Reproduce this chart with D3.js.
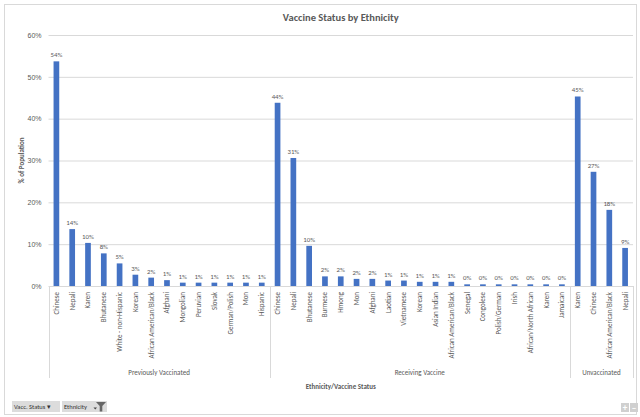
<!DOCTYPE html>
<html><head><meta charset="utf-8">
<script src="https://cdn.jsdelivr.net/npm/d3@7"></script>
<style>
html,body{margin:0;padding:0;background:#fff;}
svg{display:block;font-family:Carlito,"Liberation Sans Narrow","Open Sans",sans-serif;}
</style></head>
<body>
<svg id="c" width="640" height="417"></svg>
<script>
const groups = ["Previously Vaccinated","Receiving Vaccine","Unvaccinated"];
const prevCats = ["Chinese","Nepali","Karen","Bhutanese","White - non-Hispanic","Korean","African American/Black","Afghani","Mongolian","Peruvian","Slovak","German/Polish","Mon","Hispanic"];
const prevVals = [0.537,0.136,0.103,0.078,0.054,0.027,0.020,0.014,0.008,0.008,0.008,0.008,0.008,0.008];
const recvCats = ["Chinese","Nepali","Bhutanese","Burmese","Hmong","Mon","Afghani","Laotian","Vietnamese","Korean","Asian Indian","African American/Black","Senegal","Congolese","Polish/German","Irish","African/North African","Karen","Jamaican"];
const recvVals = [0.438,0.306,0.096,0.023,0.023,0.017,0.017,0.013,0.013,0.010,0.010,0.010,0.004,0.004,0.004,0.004,0.004,0.004,0.004];
const unvCats = ["Karen","Chinese","African American/Black","Nepali"];
const unvVals = [0.453,0.273,0.182,0.091];
const yTicks = [0,0.1,0.2,0.3,0.4,0.5,0.6];

const grpCats = [prevCats, recvCats, unvCats];
const grpVals = [prevVals, recvVals, unvVals];
const rows = [];
grpCats.forEach((cats,gi)=>cats.forEach((c,i)=>rows.push({key:gi+"|"+i, group:groups[gi], cat:c, v:grpVals[gi][i]})));

const svg = d3.select("#c");
const TXT = "#595959", GRID = "#d9d9d9", BAR = "#4472C4";
const L = 48.5, R = 633, T = 35, B = 286;

svg.append("rect").attr("x",4.5).attr("y",4.5).attr("width",632).attr("height",410)
  .attr("fill","#fff").attr("stroke","#d9d9d9");

const x = d3.scaleBand().domain(rows.map(d=>d.key)).range([L,R]).paddingInner(0.64).paddingOuter(0.32);
const y = d3.scaleLinear().domain([0,0.6]).range([B,T]);

// grid
svg.append("g").selectAll("line").data(yTicks).join("line")
  .attr("x1",L).attr("x2",R).attr("y1",d=>y(d)+0.5).attr("y2",d=>y(d)+0.5)
  .attr("stroke",GRID).attr("stroke-width",1);

// y axis labels
const yAxis = d3.axisLeft(y).tickValues(yTicks).tickFormat(d3.format(".0%")).tickSize(0).tickPadding(7);
const ya = svg.append("g").attr("transform",`translate(${L},0)`).call(yAxis);
ya.select(".domain").remove();
ya.selectAll("text").attr("fill",TXT).style("font-size","7px");

// bars
svg.append("g").selectAll("rect").data(rows).join("rect")
  .attr("x",d=>x(d.key)).attr("width",x.bandwidth())
  .attr("y",d=>y(d.v)).attr("height",d=>B-y(d.v)).attr("fill",BAR);

// value labels
svg.append("g").selectAll("text").data(rows).join("text")
  .attr("x",d=>x(d.key)+x.bandwidth()/2).attr("y",d=>y(d.v)-4)
  .attr("text-anchor","middle").attr("fill",TXT).style("font-size","6.8px")
  .text(d=>d3.format(".0%")(d.v));

// category labels
svg.append("g").selectAll("text").data(rows).join("text")
  .attr("transform",d=>`translate(${x(d.key)+x.bandwidth()/2+2.4},${B+6}) rotate(-90)`)
  .attr("text-anchor","end").attr("fill",TXT).style("font-size","7px")
  .text(d=>d.cat);

// group dividers & labels
const bounds = [L];
grpCats.forEach((cats,gi)=>{
  const k0 = rows.findIndex(r=>r.group===groups[gi]);
  const k1 = k0 + cats.length - 1;
  const xs = x(rows[k0].key)+x.bandwidth()/2, xe = x(rows[k1].key)+x.bandwidth()/2;
  svg.append("text").attr("x",(xs+xe)/2).attr("y",375).attr("text-anchor","middle")
    .attr("fill",TXT).style("font-size","7px").text(groups[gi]);
  if(gi>0){
    const prev = rows[k0-1];
    bounds.push((x(prev.key)+x.bandwidth() + x(rows[k0].key))/2);
  }
});
bounds.push(R);
svg.append("g").selectAll("line").data(bounds).join("line")
  .attr("x1",d=>Math.round(d)+0.5).attr("x2",d=>Math.round(d)+0.5)
  .attr("y1",B).attr("y2",378).attr("stroke",GRID);

// titles
svg.append("text").attr("x",(L+R)/2).attr("y",21).attr("text-anchor","middle")
  .attr("fill",TXT).style("font-size","10.5px").style("font-weight","bold").text("Vaccine Status by Ethnicity");
svg.append("text").attr("x",(L+R)/2).attr("y",389).attr("text-anchor","middle")
  .attr("fill",TXT).style("font-size","7px").style("font-weight","bold").text("Ethnicity/Vaccine  Status");
svg.append("text").attr("transform",`translate(24,${(T+B)/2}) rotate(-90)`).attr("text-anchor","middle")
  .attr("fill",TXT).style("font-size","7px").style("font-weight","bold").text("% of Population");

// pivot field buttons
const btn = svg.append("g");
btn.append("rect").attr("x",12).attr("y",401).attr("width",48).attr("height",11).attr("fill","#dcdcdc");
btn.append("text").attr("x",14).attr("y",409).attr("fill","#333").style("font-size","6.5px").text("Vacc. Status ▾");
btn.append("rect").attr("x",62).attr("y",401).attr("width",45).attr("height",11).attr("fill","#dcdcdc");
btn.append("text").attr("x",64).attr("y",409).attr("fill","#333").style("font-size","6.5px").text("Ethnicity");
btn.append("path").attr("d","M96,402 L106,402 L102.3,406 L102.3,411.5 L99.7,411.5 L99.7,406 Z").attr("fill","#666");
btn.append("path").attr("d","M93.5,407.5 L97,407.5 L95.25,409.5 Z").attr("fill","#444");
svg.append("rect").attr("x",621).attr("y",403).attr("width",8).attr("height",9).attr("fill","#d0d0d0");
svg.append("rect").attr("x",630).attr("y",403).attr("width",8).attr("height",9).attr("fill","#d0d0d0");
svg.append("text").attr("x",625).attr("y",410.5).attr("text-anchor","middle").attr("fill","#fff").style("font-size","9px").style("font-weight","bold").text("+");
svg.append("text").attr("x",634).attr("y",410.5).attr("text-anchor","middle").attr("fill","#fff").style("font-size","9px").style("font-weight","bold").text("−");
</script>
</body></html>
